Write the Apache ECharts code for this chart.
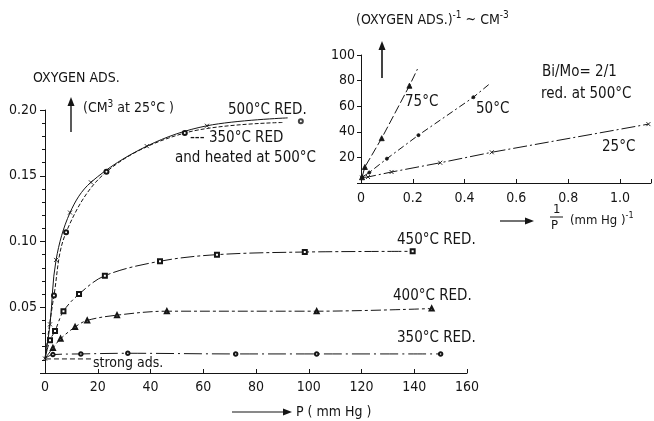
<!DOCTYPE html>
<html>
<head>
<meta charset="utf-8">
<script src="https://cdn.jsdelivr.net/npm/echarts@6/dist/echarts.min.js"></script>
<style>
  html, body { margin: 0; padding: 0; background: #fff; }
  #chart { width: 654px; height: 421px; }
</style>
</head>
<body>
<div id="chart"></div>
<script>
// main plot: oxygen adsorbed (cm3) vs P (mmHg)
const red500 = [[0, 0.011], [1.9, 0.037], [4.2, 0.086], [9.5, 0.122], [17.4, 0.145], [38.6, 0.1725], [61.4, 0.188], [92, 0.194]];
const red350heated = [[0, 0.011], [3.4, 0.059], [8.0, 0.107], [23.3, 0.153], [53, 0.1825], [90, 0.1905]];
const red350heatedEnd = [[97, 0.1915]];
const red450 = [[0, 0.011], [1.9, 0.025], [3.8, 0.032], [7.0, 0.047], [12.9, 0.060], [22.7, 0.074], [43.6, 0.085], [65.2, 0.090], [98.5, 0.092], [139.4, 0.0925]];
const red400 = [[0, 0.011], [3.0, 0.019], [5.9, 0.026], [11.4, 0.035], [16.0, 0.040], [27.3, 0.044], [46.2, 0.047], [103, 0.047], [146.6, 0.049]];
const red350 = [[0, 0.011], [3.0, 0.014], [13.6, 0.0145], [31.4, 0.015], [72.3, 0.0145], [103, 0.0145], [150, 0.0145]];
const strongAds = [[-5.7, 0.0107], [18, 0.0107]];

// inset: 1/ads vs 1/P, Bi/Mo=2/1 red. at 500C
const t75 = [[0.004, 4.5], [0.015, 12.5], [0.08, 35], [0.187, 76], [0.218, 89]];
const t50 = [[0.004, 4.5], [0.032, 8.2], [0.1, 19], [0.222, 37.4], [0.434, 67], [0.5, 78]];
const t25 = [[0.004, 4.3], [0.027, 4.7], [0.118, 8.6], [0.306, 15.8], [0.505, 24], [1.11, 46]];

const ink = "#151515";
const font = "'DejaVu Sans Condensed', 'Liberation Sans Narrow', 'DejaVu Sans', sans-serif";
const crossPath = "path://M0,0L10,10M10,0L0,10";

// first / last point of a list drawn without a marker
const openEnd = (arr) => arr.map((p, i) => (i === arr.length - 1 ? { value: p, symbol: "none" } : p));
const openStart = (arr) => arr.map((p, i) => (i === 0 ? { value: p, symbol: "none" } : p));

const lineSeries = (data, axis, dash, symbol, size, extra) =>
  Object.assign(
    {
      type: "line",
      xAxisIndex: axis,
      yAxisIndex: axis,
      data: data,
      smooth: 0.35,
      symbol: symbol,
      symbolSize: size,
      showAllSymbol: true,
      lineStyle: { color: ink, width: 1, type: dash },
      itemStyle: { color: ink, borderColor: ink, borderWidth: 0.9 },
      silent: true,
      animation: false,
    },
    extra || {}
  );

const chart = echarts.init(document.getElementById("chart"));

const axisCommon = {
  splitLine: { show: false },
  axisLine: { lineStyle: { color: ink, width: 1 } },
  axisLabel: { color: ink, fontFamily: font, fontSize: 14 },
};

const txt = (x, y, text, size) => ({
  type: "text",
  x: x,
  y: y,
  style: { text: text, fill: ink, font: (size || 14) + "px " + font, textVerticalAlign: "middle" },
});

const arrowUp = (x, y1, y2, w) => [
  { type: "line", shape: { x1: x, y1: y1, x2: x, y2: y2 + 6 }, style: { stroke: ink, lineWidth: w } },
  { type: "polygon", shape: { points: [[x - 3.5, y2 + 9], [x + 3.5, y2 + 9], [x, y2]] }, style: { fill: ink } },
];
const arrowRight = (x1, x2, y) => [
  { type: "line", shape: { x1: x1, y1: y, x2: x2 - 6, y2: y }, style: { stroke: ink, lineWidth: 1.2 } },
  { type: "polygon", shape: { points: [[x2 - 9, y - 3.5], [x2 - 9, y + 3.5], [x2, y]] }, style: { fill: ink } },
];

chart.setOption({
  backgroundColor: "#fff",
  animation: false,
  grid: [
    { left: 45, top: 110, width: 422, height: 263 },
    { left: 361, top: 55, width: 293, height: 128 },
  ],
  xAxis: [
    Object.assign({}, axisCommon, {
      gridIndex: 0,
      type: "value",
      min: 0,
      max: 160,
      interval: 20,
      axisTick: { inside: true, length: 4, lineStyle: { color: ink } },
      axisLabel: Object.assign({}, axisCommon.axisLabel, { margin: 7 }),
    }),
    Object.assign({}, axisCommon, {
      gridIndex: 1,
      type: "value",
      min: 0,
      max: 1.12,
      interval: 0.2,
      axisTick: { inside: true, length: 4, lineStyle: { color: ink } },
      axisLabel: Object.assign({}, axisCommon.axisLabel, {
        margin: 8,
        formatter: (v) => (v > 1.05 ? "" : v === 0 ? "0" : v.toFixed(1)),
      }),
    }),
  ],
  yAxis: [
    Object.assign({}, axisCommon, {
      gridIndex: 0,
      type: "value",
      min: 0,
      max: 0.2,
      interval: 0.05,
      axisTick: { length: 5, lineStyle: { color: ink } },
      minorTick: { show: true, splitNumber: 5, length: 3, lineStyle: { color: ink } },
      axisLabel: Object.assign({}, axisCommon.axisLabel, {
        margin: 8,
        formatter: (v) => (v === 0 ? "" : v.toFixed(2)),
      }),
    }),
    Object.assign({}, axisCommon, {
      gridIndex: 1,
      type: "value",
      min: 0,
      max: 100,
      interval: 20,
      axisTick: { length: 4, lineStyle: { color: ink } },
      axisLabel: Object.assign({}, axisCommon.axisLabel, {
        margin: 6,
        formatter: (v) => (v === 0 ? "" : String(v)),
      }),
    }),
  ],
  series: [
    lineSeries(openEnd(red500), 0, "solid", crossPath, 4),
    lineSeries(openEnd(openStart(red350heated)), 0, [4, 2], "emptyCircle", 4),
    { type: "scatter", xAxisIndex: 0, yAxisIndex: 0, data: red350heatedEnd, symbol: "emptyCircle", symbolSize: 4, itemStyle: { color: ink, borderWidth: 0.9 }, silent: true },
    lineSeries(openStart(red450), 0, [14, 3, 3, 3], "emptyRect", 4),
    lineSeries(openStart(red400), 0, [10, 3, 3, 3], "emptyTriangle", 4),
    lineSeries(openStart(red350), 0, [18, 4, 2, 4], "emptyCircle", 3.5),
    lineSeries(strongAds, 0, [5, 3], "none", 0, { clip: false, smooth: false }),
    lineSeries(openEnd(t75), 1, [9, 3], "triangle", 5, { smooth: false }),
    lineSeries(openEnd(t50), 1, [7, 3, 2, 3], "circle", 3, { smooth: false }),
    lineSeries(t25, 1, [14, 3, 2, 3], crossPath, 4, { smooth: false }),
  ],
  graphic: [
    txt(33, 78, "OXYGEN ADS.", 14),
    ...arrowUp(71, 132, 97, 1.4),
    {
      type: "text",
      x: 83,
      y: 108,
      style: {
        text: "{a|(CM}{s|3}{a| at 25°C )}",
        fill: ink,
        textVerticalAlign: "middle",
        rich: {
          a: { fontFamily: font, fontSize: 14, fill: ink },
          s: { fontFamily: font, fontSize: 10, fill: ink, padding: [0, 0, 8, 0] },
        },
      },
    },
    txt(228, 110, "500°C RED.", 15),
    txt(190, 138, "--- 350°C RED", 15),
    txt(175, 158, "and heated at 500°C", 15),
    txt(397, 240, "450°C RED.", 15),
    txt(393, 296, "400°C RED.", 15),
    txt(397, 338, "350°C RED.", 15),
    txt(93, 363, "strong ads.", 14),
    ...arrowRight(232, 292, 412),
    txt(296, 412, "P ( mm Hg )", 14),
    // inset
    {
      type: "text",
      x: 356,
      y: 20,
      style: {
        text: "{a|(OXYGEN ADS.)}{s|-1}{a| ~ CM}{s|-3}",
        fill: ink,
        textVerticalAlign: "middle",
        rich: {
          a: { fontFamily: font, fontSize: 14, fill: ink },
          s: { fontFamily: font, fontSize: 10, fill: ink, padding: [0, 0, 10, 0] },
        },
      },
    },
    ...arrowUp(382, 78, 41, 1.6),
    txt(405, 102, "75°C", 15),
    txt(476, 109, "50°C", 15),
    txt(602, 147, "25°C", 15),
    txt(542, 72, "Bi/Mo= 2/1", 15),
    txt(541, 94, "red. at 500°C", 15),
    ...arrowRight(500, 534, 221),
    txt(553, 210, "1", 13),
    { type: "line", shape: { x1: 550, y1: 217, x2: 563, y2: 217 }, style: { stroke: ink, lineWidth: 1 } },
    txt(551, 226, "P", 13),
    {
      type: "text",
      x: 570,
      y: 221,
      style: {
        text: "{a|(mm Hg )}{s|-1}",
        fill: ink,
        textVerticalAlign: "middle",
        rich: {
          a: { fontFamily: font, fontSize: 13, fill: ink },
          s: { fontFamily: font, fontSize: 9, fill: ink, padding: [0, 0, 10, 0] },
        },
      },
    },
  ],
});
</script>
</body>
</html>
